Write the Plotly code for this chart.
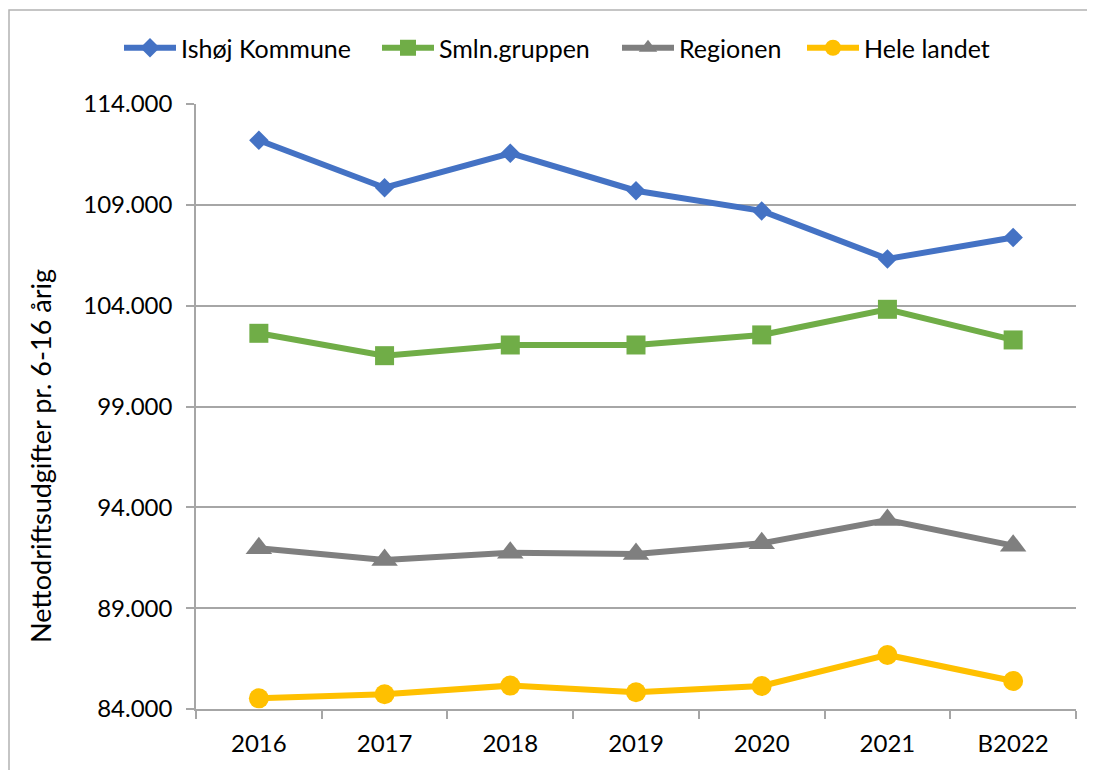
import plotly.graph_objects as go

years = ["2016", "2017", "2018", "2019", "2020", "2021", "B2022"]
ishoj = [112200, 109850, 111560, 109700, 108700, 106320, 107380]
smln = [102630, 101520, 102050, 102050, 102550, 103820, 102300]
regionen = [91970, 91390, 91750, 91690, 92220, 93370, 92100]
hele = [84530, 84730, 85160, 84830, 85140, 86680, 85390]
y_ticks = [84000, 89000, 94000, 99000, 104000, 109000, 114000]
y_ticktext = ["84.000", "89.000", "94.000", "99.000", "104.000", "109.000", "114.000"]

# page offset from the browser's default body margin
OFF = 8
W, H = 1095 - OFF, 770 - OFF
L, R, T, B = 196 - OFF, 1076 - OFF, 104 - OFF, 709 - OFF
FONT = "Lato"

def px(xp):
    return (xp - OFF - L) / (R - L)

def py(yp):
    return (B - (yp - OFF)) / (B - T)

series = [
    ("Ishøj Kommune", ishoj, "#4472C4", "diamond", 15, "legend", 119),
    ("Smln.gruppen", smln, "#70AD47", "square", 19, "legend2", 377),
    ("Regionen", regionen, "#7F7F7F", "triangle-up", 23, "legend3", 617),
    ("Hele landet", hele, "#FFC000", "circle", 20, "legend4", 802),
]

fig = go.Figure()
layout_legends = {}
for name, vals, col, sym, size, lg, lx in series:
    fig.add_trace(go.Scatter(
        x=years, y=vals, name=name, mode="lines+markers",
        line=dict(color=col, width=6),
        marker=dict(symbol=sym, size=size, color=col, line=dict(width=0)),
        legend=lg, cliponaxis=False,
    ))
    layout_legends[lg] = dict(
        x=px(lx), y=py(48), xanchor="left", yanchor="middle",
        orientation="h", font=dict(family=FONT, size=25, color="#000000"),
        bgcolor="rgba(0,0,0,0)", itemwidth=52, borderwidth=0,
    )

fig.update_layout(
    width=W, height=H,
    margin=dict(l=L, r=W - R, t=T, b=H - B, pad=0),
    paper_bgcolor="white", plot_bgcolor="white",
    font=dict(family=FONT, size=24, color="#000000"),
    showlegend=True,
    **layout_legends,
)

fig.update_xaxes(
    type="category", range=[-0.5, 6.5],
    showline=True, linecolor="#a6a6a6", linewidth=1.5,
    ticks="outside", tickson="boundaries", ticklen=8, tickcolor="#a6a6a6", tickwidth=1.5,
    showgrid=False, tickfont=dict(family=FONT, size=24), ticklabelstandoff=12,
)
fig.update_yaxes(
    range=[84000, 114000], tickvals=y_ticks, ticktext=y_ticktext,
    showline=True, linecolor="#a6a6a6", linewidth=1.5,
    ticks="outside", ticklen=8, tickcolor="#a6a6a6", tickwidth=1.5,
    showgrid=True, gridcolor="#a6a6a6", gridwidth=1.5, zeroline=False,
    tickfont=dict(family=FONT, size=24), ticklabelstandoff=9,
)

fig.add_annotation(
    text="Nettodriftsudgifter pr. 6-16 årig", textangle=-90,
    xref="paper", yref="paper", x=px(40), y=py(456),
    xanchor="center", yanchor="middle", showarrow=False,
    font=dict(family=FONT, size=27, color="#000000"),
)

fig.add_shape(
    type="rect", xref="paper", yref="paper",
    x0=px(9), x1=px(1130), y0=py(800), y1=py(10),
    line=dict(color="#b3b3b3", width=1.5), layer="below",
)

fig.write_html("out.html")
